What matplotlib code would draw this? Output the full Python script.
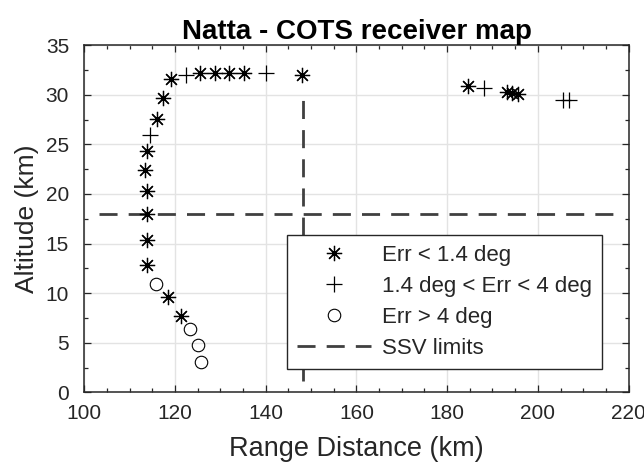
import matplotlib
matplotlib.use("Agg")
import matplotlib.pyplot as plt
from matplotlib.ticker import MultipleLocator

plt.rcParams['font.family'] = ['Liberation Sans', 'DejaVu Sans']

# Receiver fixes, grouped by angular error
good_range = [113.9, 113.9, 113.9, 113.9, 113.3, 113.9, 116.0, 117.4, 119.0,
              125.5, 128.8, 131.8, 135.1, 147.9, 184.6, 193.2, 194.3, 195.6,
              118.4, 121.3]
good_alt = [12.8, 15.4, 18.0, 20.3, 22.4, 24.3, 27.6, 29.7, 31.55,
            32.2, 32.2, 32.2, 32.2, 32.0, 30.9, 30.25, 30.15, 30.05,
            9.65, 7.7]

mid_range = [114.4, 122.4, 140.0, 188.1, 205.6, 206.8]
mid_alt = [25.9, 32.0, 32.2, 30.65, 29.5, 29.5]

bad_range = [115.9, 123.4, 125.0, 125.7]
bad_alt = [10.9, 6.4, 4.8, 3.1]

# SSV limit lines
ssv_h_x = [103.3, 218.0]
ssv_h_y = [18.0, 18.0]
ssv_v_x = [148.2, 148.2]
ssv_v_y = [1.2, 30.0]

dark = '#262626'

fig = plt.figure(figsize=(6.44, 4.70), dpi=100)
ax = fig.add_axes([0.131, 0.165, 0.845, 0.739])

ax.plot(good_range, good_alt, linestyle='none', marker=(8, 2, 0), markersize=11,
        markeredgewidth=0.9, color='black', label='Err < 1.4 deg', zorder=3)
ax.plot(mid_range, mid_alt, linestyle='none', marker='+', markersize=11,
        markeredgewidth=0.9, color='black', label='1.4 deg < Err < 4 deg', zorder=3)
ax.plot(bad_range, bad_alt, linestyle='none', marker='o', markersize=9,
        markeredgewidth=0.8, markerfacecolor='none', color='black',
        label='Err > 4 deg', zorder=3)
ax.plot(ssv_h_x, ssv_h_y, linestyle=(0, (6.5, 4)), linewidth=2, color='#404040',
        label='SSV limits', zorder=2)
ax.plot(ssv_v_x, ssv_v_y, linestyle=(0, (6.5, 4)), linewidth=2, color='#404040', zorder=2)

ax.set_xlim(100, 220)
ax.set_ylim(0, 35)
ax.xaxis.set_major_locator(MultipleLocator(20))
ax.xaxis.set_minor_locator(MultipleLocator(5))
ax.yaxis.set_major_locator(MultipleLocator(5))
ax.yaxis.set_minor_locator(MultipleLocator(2.5))
ax.tick_params(which='both', direction='in', top=True, right=True, color=dark,
               labelcolor=dark, labelsize=15, width=0.9)
ax.tick_params(which='major', length=5)
ax.tick_params(which='minor', length=3)
ax.tick_params(axis='x', which='major', pad=8)
ax.tick_params(axis='y', which='major', pad=11)
ax.grid(True, which='major', color='#e3e3e3', linewidth=1.0)
ax.set_axisbelow(True)
for s in ax.spines.values():
    s.set_color(dark)
    s.set_linewidth(1.1)

ax.set_xlabel('Range Distance (km)', fontsize=19.5, color=dark, labelpad=10)
ax.set_ylabel('Altitude (km)', fontsize=19, color=dark, labelpad=5)
ax.set_title('Natta - COTS receiver map', fontsize=20, fontweight='bold', pad=4)

leg = ax.legend(loc='lower left', bbox_to_anchor=(0.373, 0.067), fontsize=16,
                handlelength=3.3, handletextpad=0.5, labelspacing=0.45,
                borderpad=0.45, borderaxespad=0, fancybox=False, framealpha=1,
                edgecolor=dark)
leg.get_frame().set_linewidth(1.0)
for t in leg.get_texts():
    t.set_color(dark)

fig.savefig('out.png', dpi=100)
